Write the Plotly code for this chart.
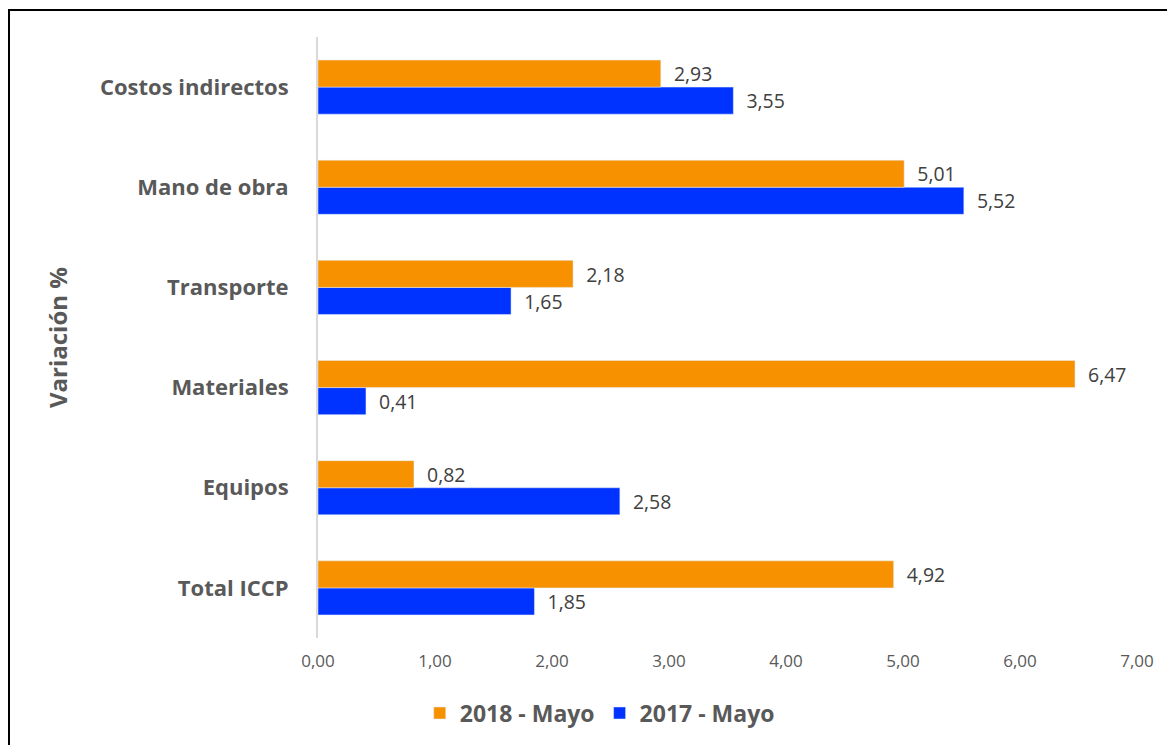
import plotly.graph_objects as go

categorias = ["Total ICCP", "Equipos", "Materiales", "Transporte", "Mano de obra", "Costos indirectos"]
mayo_2018 = [4.92, 0.82, 6.47, 2.18, 5.01, 2.93]
mayo_2017 = [1.85, 2.58, 0.41, 1.65, 5.52, 3.55]

NARANJA = "#F79100"
AZUL = "#0033FF"
GRIS = "#595959"
FUENTE = "Open Sans"

fig = go.Figure()
# el primero queda abajo dentro de cada grupo
fig.add_trace(go.Bar(y=categorias, x=mayo_2017, orientation="h", name="2017 - Mayo",
                     marker_color=AZUL, texttemplate="\u00a0\u00a0%{x:.2f}",
                     textposition="outside", cliponaxis=False,
                     textfont=dict(size=23, color="#404040", family=FUENTE)))
fig.add_trace(go.Bar(y=categorias, x=mayo_2018, orientation="h", name="2018 - Mayo",
                     marker_color=NARANJA, texttemplate="\u00a0\u00a0%{x:.2f}",
                     textposition="outside", cliponaxis=False,
                     textfont=dict(size=23, color="#404040", family=FUENTE)))

# la pagina tiene 8px de margen en el body, se compensa aqui
fig.update_layout(
    width=1167, height=737,
    margin=dict(l=310, r=38, t=29, b=106),
    plot_bgcolor="white", paper_bgcolor="white",
    barmode="group", bargap=0.46, bargroupgap=0,
    separators=",.",
    font=dict(family=FUENTE, color=GRIS),
    legend=dict(orientation="h", x=0.344, y=-0.123, xanchor="center", yanchor="middle",
                traceorder="reversed", font=dict(size=23, color=GRIS, family=FUENTE, weight="bold")),
    showlegend=True,
)

fig.update_xaxes(range=[0, 7], dtick=1, tickformat=".2f", showgrid=False, zeroline=False,
                 showline=False, ticks="", tickfont=dict(size=17, color=GRIS),
                 ticklabelstandoff=11)
fig.update_yaxes(showgrid=False, zeroline=False, showline=True, linecolor="#D9D9D9", linewidth=2,
                 ticks="", ticklabelstandoff=23,
                 tickfont=dict(size=22, color=GRIS, family=FUENTE, weight="bold"))

# titulo del eje y
fig.add_annotation(text="<b>Variación %</b>", textangle=-90, xref="paper", yref="paper",
                   x=-0.318, y=0.5, xanchor="center", yanchor="middle", showarrow=False,
                   font=dict(size=24, color=GRIS, family=FUENTE))

# marco
fig.add_shape(type="rect", xref="paper", yref="paper", x0=-0.3773, x1=1.2, y0=-0.3, y1=1.0449,
              line=dict(color="black", width=2), fillcolor="rgba(0,0,0,0)", layer="above")

fig.write_html("out.html")
